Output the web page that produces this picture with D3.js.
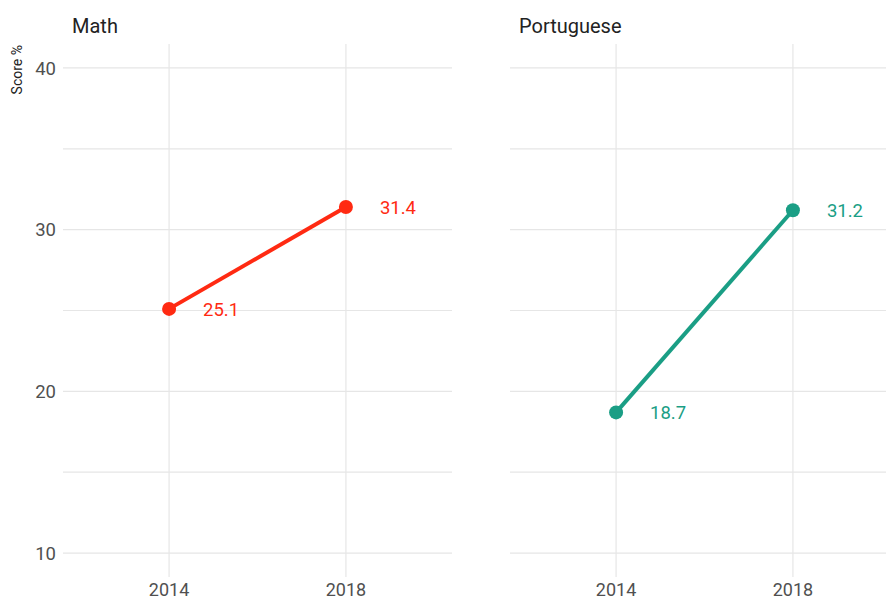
<!DOCTYPE html>
<head>
  <meta charset="utf-8">
  <script src="https://d3js.org/d3.v7.min.js"></script>
  <style>
    body { margin:0; background:white; }
    svg { font-family: Roboto, "Liberation Sans Narrow", sans-serif; }
  </style>
</head>
<body>
<script>
  // data
  var subjects = ["Math", "Portuguese"];
  var years = [2014, 2018];
  var mathScores = [25.1, 31.4];
  var portScores = [18.7, 31.2];
  var colors = ["#ff2a12", "#1a9e85"];
  var yTicks = [10, 20, 30, 40];
  var yMinor = [15, 25, 35];

  var width = 886, height = 601;
  var panels = [
    { name: subjects[0], left: 63, scores: mathScores, color: colors[0] },
    { name: subjects[1], left: 510, scores: portScores, color: colors[1] }
  ];
  var panelW = 389, panelTop = 44, panelBottom = 577;

  var svg = d3.select("body").append("svg")
    .attr("width", width)
    .attr("height", height);

  var y = d3.scaleLinear().domain([8.52, 41.48]).range([panelBottom, panelTop]);

  panels.forEach(function(p, k) {
    var x = d3.scaleLinear().domain([2011.6, 2020.4]).range([p.left, p.left + panelW]);
    var g = svg.append("g");
    var right = Math.min(p.left + panelW, width);

    // grid
    g.selectAll(".hg").data(yTicks.concat(yMinor)).enter().append("line")
      .attr("x1", p.left).attr("x2", right)
      .attr("y1", function(d){ return y(d); }).attr("y2", function(d){ return y(d); })
      .attr("stroke", "#e6e6e6").attr("stroke-width", 1.2);
    g.selectAll(".vg").data(years).enter().append("line")
      .attr("x1", function(d){ return x(d); }).attr("x2", function(d){ return x(d); })
      .attr("y1", panelTop).attr("y2", panelBottom)
      .attr("stroke", "#e6e6e6").attr("stroke-width", 1.2);

    // title
    g.append("text").attr("x", p.left + 9).attr("y", 33)
      .attr("font-size", 20).attr("fill", "#222")
      .text(p.name);

    // x tick labels
    g.selectAll(".xt").data(years).enter().append("text")
      .attr("x", function(d){ return x(d); }).attr("y", 596)
      .attr("text-anchor", "middle").attr("font-size", 18).attr("fill", "#505050")
      .text(function(d){ return d; });

    var pts = years.map(function(yr, i){ return [yr, p.scores[i]]; });
    var line = d3.line().x(function(d){ return x(d[0]); }).y(function(d){ return y(d[1]); });
    g.append("path").attr("d", line(pts))
      .attr("fill", "none").attr("stroke", p.color).attr("stroke-width", 4);
    g.selectAll(".pt").data(pts).enter().append("circle")
      .attr("cx", function(d){ return x(d[0]); })
      .attr("cy", function(d){ return y(d[1]); })
      .attr("r", 7).attr("fill", p.color);
    g.selectAll(".lb").data(pts).enter().append("text")
      .attr("x", function(d){ return x(d[0]) + 34; })
      .attr("y", function(d){ return y(d[1]); })
      .attr("dy", "0.36em").attr("font-size", 18.5).attr("fill", p.color)
      .text(function(d){ return d[1].toFixed(1); });
  });

  // y tick labels (left panel only)
  svg.selectAll(".yt").data(yTicks).enter().append("text")
    .attr("x", 56).attr("y", function(d){ return y(d); })
    .attr("dy", "0.36em").attr("text-anchor", "end")
    .attr("font-size", 18.5).attr("fill", "#505050")
    .text(function(d){ return d; });

  svg.append("text")
    .attr("transform", "translate(22,45) rotate(-90)")
    .attr("text-anchor", "end").attr("font-size", 14).attr("fill", "#222")
    .text("Score %");
</script>
</body>
